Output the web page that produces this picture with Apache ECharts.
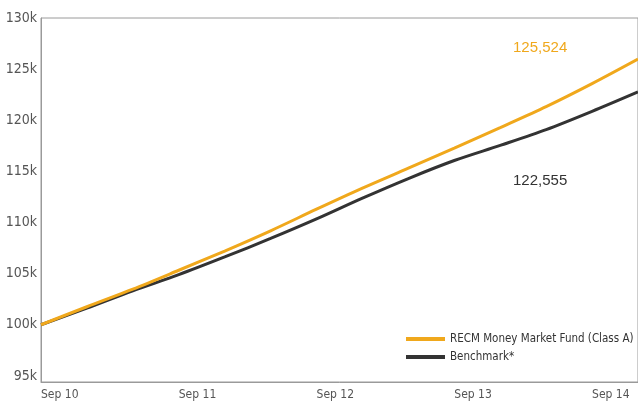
<!DOCTYPE html>
<html>
<head>
<meta charset="utf-8">
<script src="https://cdn.jsdelivr.net/npm/echarts@6/dist/echarts.min.js"></script>
<style>html,body{margin:0;padding:0;background:#fff}#c{width:638px;height:401px}</style>
</head>
<body>
<div id="c"></div>
<script>
// months since Sep 2010
var months = [0, 4, 8, 12, 16, 20, 24, 28, 32, 36, 40, 44, 48, 52];
var fund = [100.0, 101.76, 103.48, 105.33, 107.21, 109.19, 111.30, 113.36, 115.31, 117.27, 119.28, 121.33, 123.58, 125.98];
var bench = [100.0, 101.62, 103.32, 104.90, 106.63, 108.44, 110.35, 112.38, 114.30, 116.06, 117.54, 119.08, 120.87, 122.77];
var xTickMonths = [0, 12, 24, 36, 48];
var xTickLabels = ['Sep 10', 'Sep 11', 'Sep 12', 'Sep 13', 'Sep 14'];
var seriesNames = ['RECM Money Market Fund (Class A)', 'Benchmark*'];
var endLabels = ['125,524', '122,555'];

var FONT = "'DejaVu Sans Condensed', 'Liberation Sans Narrow', sans-serif";
var ORANGE = '#F0A81C', DARK = '#333333';

function pairs(xs, ys) { return xs.map(function (x, i) { return [x, ys[i] * 1000]; }); }

var chart = echarts.init(document.getElementById('c'));
chart.setOption({
  animation: false,
  grid: { left: 41, right: -2, top: 18, bottom: 19, show: true, borderColor: '#9a9a9a', borderWidth: 1, containLabel: false },
  xAxis: {
    type: 'value', min: 0, max: 52, interval: 12,
    axisLine: { show: true, lineStyle: { color: '#9a9a9a', width: 1 } },
    axisTick: { show: false },
    splitLine: { show: false },
    axisLabel: {
      color: '#555', fontFamily: FONT, fontSize: 12, margin: 7, align: 'left',
      showMaxLabel: false,
      formatter: function (v) { var i = xTickMonths.indexOf(v); return i >= 0 ? xTickLabels[i] : ''; }
    }
  },
  yAxis: {
    type: 'value', min: 94400, max: 130000, splitNumber: 7,
    axisLine: { show: true, lineStyle: { color: '#9a9a9a', width: 1 } },
    axisTick: { show: false },
    splitLine: { show: false },
    axisLabel: {
      color: '#555', fontFamily: FONT, fontSize: 14, margin: 4,
      formatter: function (v) { return v % 5000 === 0 ? (v / 1000) + 'k' : ''; }
    }
  },
  legend: {
    orient: 'vertical', left: 406, top: 332, padding: 0, itemWidth: 39, itemHeight: 4, itemGap: 4,
    icon: 'rect',
    textStyle: { color: '#333', fontFamily: FONT, fontSize: 11.5, lineHeight: 14 },
    data: seriesNames
  },
  graphic: [
    { type: 'text', x: 513, y: 47.5, style: { text: endLabels[0], fill: ORANGE, font: "15px 'Liberation Sans', Arial, sans-serif", verticalAlign: 'middle' } },
    { type: 'text', x: 513, y: 181, style: { text: endLabels[1], fill: DARK, font: "15px 'Liberation Sans', Arial, sans-serif", verticalAlign: 'middle' } }
  ],
  series: [
    { name: seriesNames[0], type: 'line', data: pairs(months, fund), showSymbol: false, smooth: 0.3, z: 3,
      lineStyle: { color: ORANGE, width: 3 }, itemStyle: { color: ORANGE } },
    { name: seriesNames[1], type: 'line', data: pairs(months, bench), showSymbol: false, smooth: 0.3, z: 2,
      lineStyle: { color: DARK, width: 3 }, itemStyle: { color: DARK } }
  ]
});
</script>
</body>
</html>
